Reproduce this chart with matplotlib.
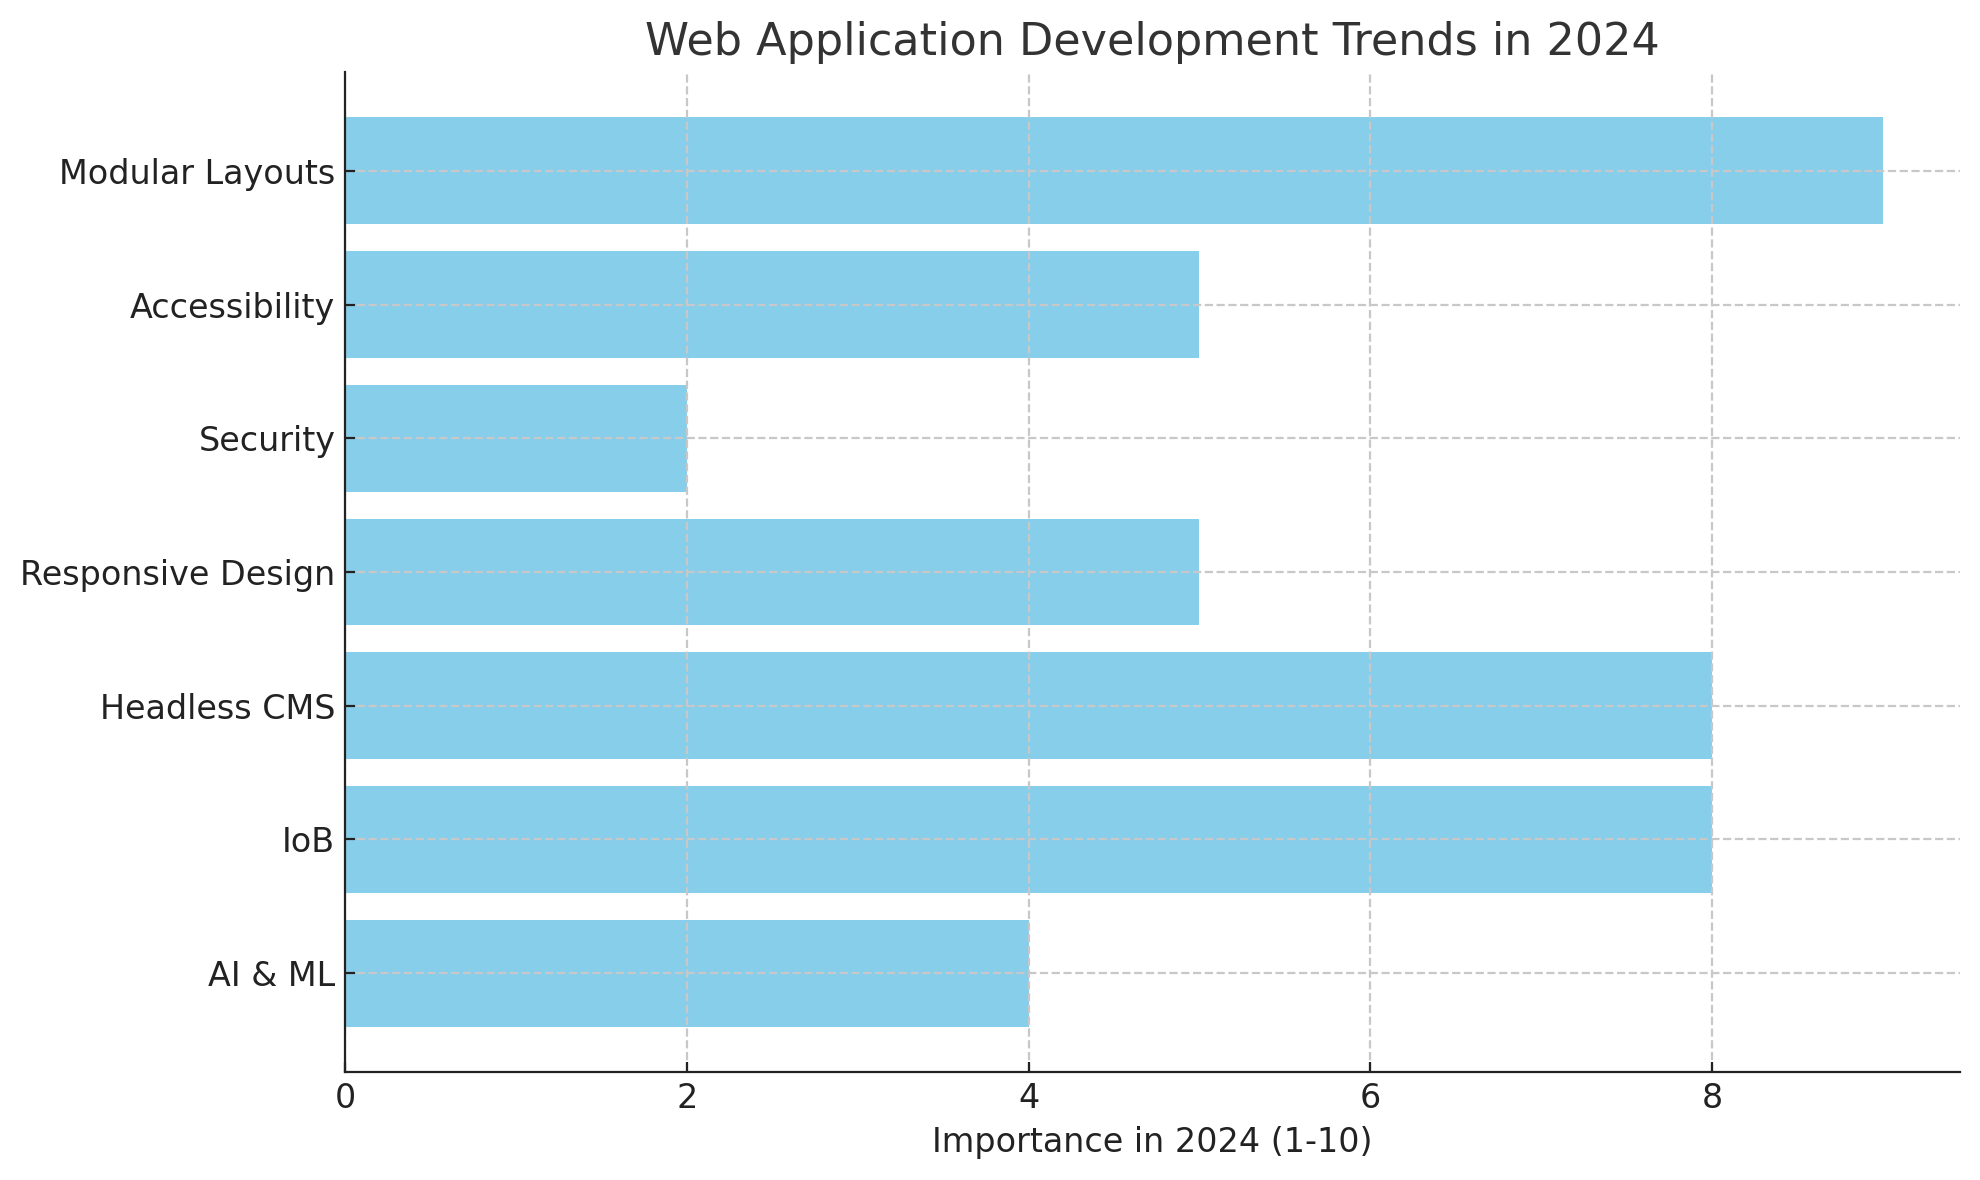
import matplotlib
matplotlib.use('Agg')
import matplotlib.pyplot as plt

# data
trends = ["AI & ML", "IoB", "Headless CMS", "Responsive Design",
          "Security", "Accessibility", "Modular Layouts"]
importance = [4, 8, 8, 5, 2, 5, 9]

plt.rcParams.update({"font.family": "DejaVu Sans"})

fig = plt.figure(figsize=(9.9, 5.9), dpi=200)
ax = fig.add_axes([345 / 1980, 1 - 1072 / 1180, (1960 - 345) / 1980, (1072 - 72) / 1180])

ax.barh(trends, importance, color="skyblue", zorder=1)
ax.set_title("Web Application Development Trends in 2024", fontsize=16, color="#333333")
ax.set_xlabel("Importance in 2024 (1-10)", fontsize=12, color="#222222")
ax.tick_params(labelsize=12, colors="#222222", direction="in")
ax.grid(True, linestyle="--", color="#c8c8c8", linewidth=0.8)
ax.set_axisbelow("line")  # grid above bars, under spines
ax.spines["top"].set_visible(False)
ax.spines["right"].set_visible(False)
for s in ("left", "bottom"):
    ax.spines[s].set_color("#222222")

plt.savefig("out.png")
plt.close()
